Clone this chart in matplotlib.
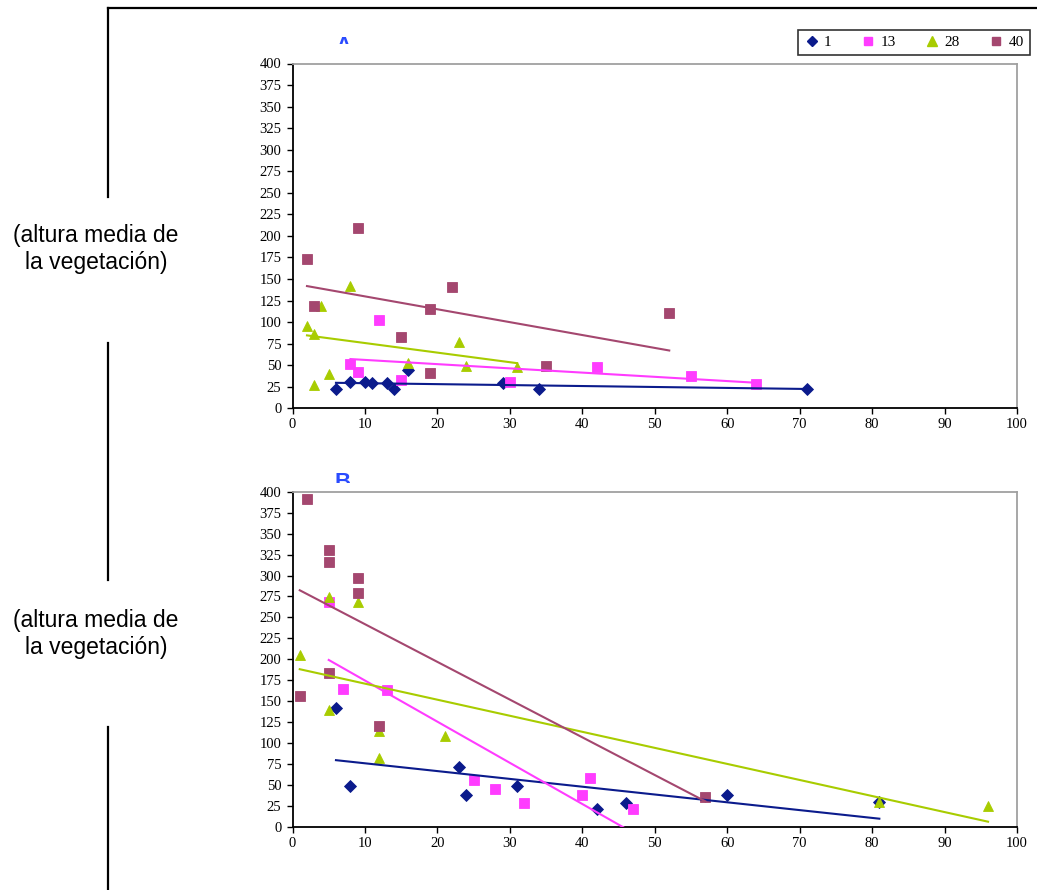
import numpy as np
import matplotlib
matplotlib.use("Agg")
import matplotlib.pyplot as plt
from matplotlib.lines import Line2D
from matplotlib.transforms import Bbox

W, H = 1037, 890
DPI = 100

series_names = ["1", "13", "28", "40"]
colors = ["#0B1B8C", "#FF3CFF", "#A8CC00", "#A4476F"]
markers = ["D", "s", "^", "s"]
msizes = [5.8, 6.5, 7.5, 6.5]

# Panel A (upper chart)
a_x1 = [6, 8, 10, 11, 13, 14, 16, 29, 34, 71]
a_y1 = [22, 30, 30, 29, 29, 22, 44, 29, 22, 22]
a_x13 = [8, 9, 12, 15, 30, 42, 55, 64]
a_y13 = [51, 42, 103, 33, 31, 48, 37, 28]
a_x28 = [2, 3, 3, 4, 5, 8, 16, 23, 24, 31]
a_y28 = [96, 86, 27, 119, 40, 142, 52, 77, 49, 48]
a_x40 = [2, 3, 9, 15, 19, 19, 22, 35, 52]
a_y40 = [173, 119, 209, 83, 115, 41, 141, 49, 110]

# Panel B (lower chart)
b_x1 = [6, 8, 23, 24, 31, 42, 46, 60, 81]
b_y1 = [142, 49, 72, 38, 49, 22, 29, 38, 30]
b_x13 = [5, 7, 13, 25, 28, 32, 40, 41, 47]
b_y13 = [269, 165, 163, 56, 45, 29, 38, 59, 22]
b_x28 = [1, 5, 5, 9, 12, 12, 21, 81, 96]
b_y28 = [205, 140, 274, 269, 115, 82, 108, 30, 25]
b_x40 = [1, 2, 5, 5, 5, 9, 9, 12, 57]
b_y40 = [156, 391, 330, 316, 184, 297, 279, 121, 36]

x_ticks = list(range(0, 101, 10))
y_ticks = list(range(0, 401, 25))
ylabel_text = "(altura media de\nla vegetación)"
panel_letters = ["A", "B"]

panel_a = [(a_x1, a_y1), (a_x13, a_y13), (a_x28, a_y28), (a_x40, a_y40)]
panel_b = [(b_x1, b_y1), (b_x13, b_y13), (b_x28, b_y28), (b_x40, b_y40)]

fig = plt.figure(figsize=(W / DPI, H / DPI), dpi=DPI)
fig.patch.set_facecolor("white")


def px_axes(left, top, right, bottom):
    return fig.add_axes([left / W, 1 - bottom / H, (right - left) / W, (bottom - top) / H])


def style_axes(ax):
    ax.set_xlim(0, 100)
    ax.set_ylim(0, 400)
    ax.set_xticks(x_ticks)
    ax.set_yticks(y_ticks)
    for side in ("left", "bottom"):
        ax.spines[side].set_color("black")
        ax.spines[side].set_linewidth(1.3)
    for side in ("top", "right"):
        ax.spines[side].set_color("#A0A0A0")
        ax.spines[side].set_linewidth(1.3)
    ax.tick_params(direction="out", length=4, width=1.0,
                   labelsize=10.5, colors="black")
    ax.tick_params(axis="y", pad=4)
    ax.tick_params(axis="x", pad=3)
    for lab in ax.get_xticklabels() + ax.get_yticklabels():
        lab.set_family("Liberation Serif")


def draw_panel(ax, data):
    for (x, y), c, m, s in zip(data, colors, markers, msizes):
        x = np.asarray(x, dtype=float)
        y = np.asarray(y, dtype=float)
        ax.plot(x, y, ls="none", marker=m, color=c, markersize=s,
                markeredgecolor=c, markeredgewidth=0.6, zorder=3, clip_on=False)
        k, b = np.polyfit(x, y, 1)
        xs = np.array([x.min(), x.max()])
        ax.plot(xs, k * xs + b, color=c, lw=1.5, zorder=4)


ax_a = px_axes(292.5, 63.5, 1017, 408.3)
style_axes(ax_a)
draw_panel(ax_a, panel_a)

ax_b = px_axes(292.5, 491.7, 1017, 827)
style_axes(ax_b)
draw_panel(ax_b, panel_b)

# Axis captions on the left
for cy in (249, 634):
    fig.text(96 / W, 1 - cy / H, ylabel_text, ha="center", va="center",
             fontsize=16.5, family="Liberation Sans", linespacing=1.2)

# Frame lines around the figure block
frame_kw = dict(color="black", lw=1.6, transform=fig.transFigure)
for y0, y1 in ((8, 197), (343, 580), (727, 890)):
    fig.add_artist(Line2D([108 / W, 108 / W], [1 - y0 / H, 1 - y1 / H], **frame_kw))
fig.add_artist(Line2D([108 / W, 1.0], [1 - 8 / H, 1 - 8 / H], **frame_kw))

# Panel letters, only their tops peek out above the plot areas
for letter, top, cut in zip(panel_letters, (36, 472), (44, 483)):
    t = fig.text(343 / W, 1 - top / H, letter, ha="center", va="top",
                 fontsize=16, weight="bold", color="#2A4BFF",
                 family="Liberation Sans")
    t.set_clip_box(Bbox.from_extents(0, H - cut, W, H - top + 4))
    t.set_clip_on(True)

# Legend
handles = [Line2D([], [], ls="none", marker=m, color=c, markeredgecolor=c,
                  markersize=s * 0.9)
           for c, m, s in zip(colors, markers, msizes)]
leg = fig.legend(handles, series_names, loc="center",
                 bbox_to_anchor=(798 / W, 1 - 58 / H, 232 / W, 31 / H),
                 ncol=4, mode="expand", frameon=True, fancybox=False,
                 edgecolor="black", borderaxespad=0, handlelength=1.0,
                 handletextpad=0.3, borderpad=0.4,
                 prop={"family": "Liberation Serif", "size": 11})
leg.get_frame().set_linewidth(1.2)

fig.savefig("out.png", dpi=DPI, facecolor="white")
